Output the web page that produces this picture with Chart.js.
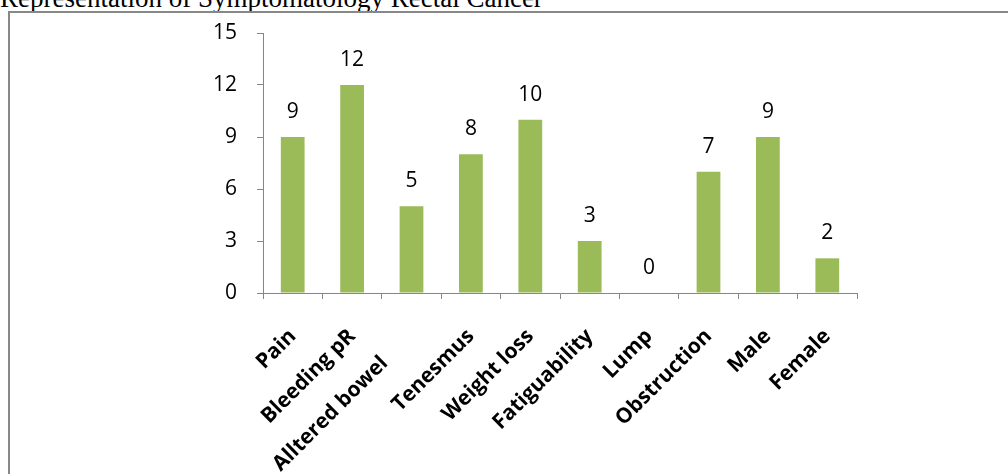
<!DOCTYPE html>
<html>
<head>
<meta charset="utf-8">
<script src="https://cdn.jsdelivr.net/npm/chart.js@4/dist/chart.umd.min.js"></script>
<style>
  html, body { margin: 0; padding: 0; background: #fff; }
  #wrap { position: relative; width: 1008px; height: 474px; overflow: hidden; }
  #frame { position: absolute; left: 8px; top: 11px; right: -10px; bottom: -10px;
           border-left: 2px solid #888; border-top: 2px solid #888; }
  #title { position: absolute; left: 0; top: -15px; font: 27px "Liberation Serif", "Times New Roman", serif;
           color: #000; white-space: nowrap; line-height: 27px; }
  #chart { position: absolute; left: 0; top: 0; }
</style>
</head>
<body>
<div id="wrap">
  <div id="title">Representation of Symptomatology Rectal Cancer</div>
  <div id="frame"></div>
  <canvas id="chart" width="1008" height="474"></canvas>
</div>
<script>
// the source label carries trailing blanks, which push it back from its tick
const categories = ['Pain', 'Bleeding pR', 'Alltered bowel       ', 'Tenesmus', 'Weight loss',
  'Fatiguability', 'Lump', 'Obstruction', 'Male', 'Female'];
const counts = [9, 12, 5, 8, 10, 3, 0, 7, 9, 2];
const yTicks = [0, 3, 6, 9, 12, 15];

// value labels above each bar
const valueLabels = {
  id: 'valueLabels',
  afterDatasetsDraw(chart) {
    const ctx = chart.ctx;
    const meta = chart.getDatasetMeta(0);
    ctx.save();
    ctx.font = '21px "Open Sans"';
    ctx.fillStyle = '#000';
    ctx.textAlign = 'center';
    ctx.textBaseline = 'alphabetic';
    meta.data.forEach((bar, i) => {
      ctx.fillText(String(counts[i]), bar.x, bar.y - 19);
    });
    ctx.restore();
  }
};

const ctx = document.getElementById('chart').getContext('2d');
new Chart(ctx, {
  type: 'bar',
  data: {
    labels: categories,
    datasets: [{
      data: counts,
      backgroundColor: '#9BBB59',
      borderWidth: 0,
      categoryPercentage: 0.8,
      barPercentage: 0.5
    }]
  },
  options: {
    responsive: false,
    animation: false,
    layout: { padding: { left: 203, top: 33, right: 151, bottom: 0 } },
    plugins: {
      legend: { display: false },
      tooltip: { enabled: false }
    },
    scales: {
      x: {
        grid: { drawOnChartArea: false, drawTicks: true, tickLength: 6, color: '#868686', offset: true },
        border: { color: '#868686', width: 1 },
        ticks: {
          autoSkip: false, minRotation: 45, maxRotation: 45, padding: 25,
          color: '#000', font: { family: 'Open Sans', size: 21, weight: 'bold' }
        },
        afterFit(scale) { scale.height = 181; }
      },
      y: {
        min: 0, max: 15,
        grid: { drawOnChartArea: false, drawTicks: true, tickLength: 6, color: '#868686' },
        border: { color: '#868686', width: 1 },
        afterBuildTicks(scale) { scale.ticks = yTicks.map(v => ({ value: v })); },
        ticks: { padding: 20, color: '#000', font: { family: 'Open Sans', size: 21 } },
        afterFit(scale) { scale.width = 60; }
      }
    }
  },
  plugins: [valueLabels]
});
</script>
</body>
</html>
